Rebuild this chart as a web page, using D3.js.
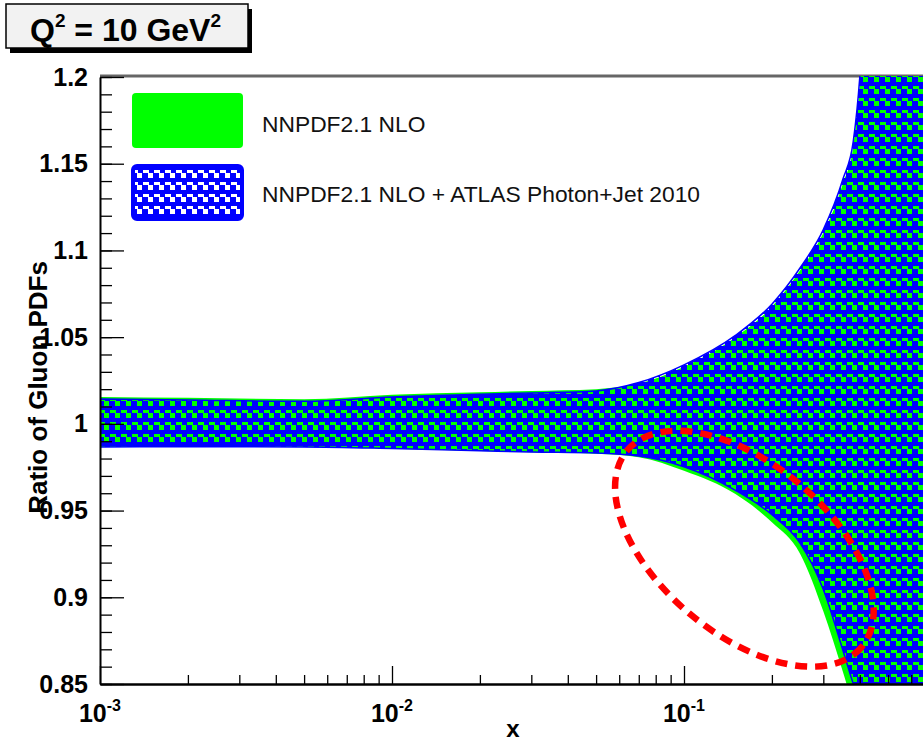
<!DOCTYPE html>
<html>
<head>
<meta charset="utf-8">
<script src="https://cdn.jsdelivr.net/npm/d3@7"></script>
<style>
body { margin: 0; background: #fff; }
svg { display: block; }
text { font-family: "Liberation Sans", Arial, Helvetica, sans-serif; }
</style>
</head>
<body>
<div id="chart"></div>
<script>
// x grid (momentum fraction) shared by both bands
var xs = [0.001, 0.002, 0.005, 0.01, 0.02, 0.03, 0.05, 0.07, 0.1, 0.15, 0.2, 0.25, 0.3, 0.35, 0.38, 0.4, 0.42, 0.45, 0.5, 0.6, 0.7];

// NNPDF2.1 NLO (green, solid)
var nloUp = [1.0155, 1.0150, 1.0142, 1.0168, 1.0182, 1.0190, 1.0200, 1.0232, 1.0330, 1.0500, 1.0675, 1.0885, 1.1100, 1.1385, 1.1600, 1.1950, 1.2500, 1.3500, 1.4500, 1.6300, 1.8000];
var nloLo = [0.9867, 0.9868, 0.9866, 0.9856, 0.9843, 0.9836, 0.9828, 0.9808, 0.9730, 0.9595, 0.9432, 0.9250, 0.8920, 0.8570, 0.8370, 0.8240, 0.8110, 0.7920, 0.7620, 0.7050, 0.6550];

// NNPDF2.1 NLO + ATLAS Photon+Jet 2010 (blue, hatched)
var atlasUp = [1.0144, 1.0138, 1.0130, 1.0155, 1.0170, 1.0178, 1.0190, 1.0238, 1.0340, 1.0510, 1.0690, 1.0900, 1.1120, 1.1410, 1.1630, 1.2000, 1.2600, 1.3600, 1.4600, 1.6500, 1.8200];
var atlasLo = [0.9867, 0.9868, 0.9867, 0.9858, 0.9845, 0.9838, 0.9832, 0.9815, 0.9753, 0.9617, 0.9476, 0.9311, 0.9045, 0.8695, 0.8500, 0.8390, 0.8270, 0.8100, 0.7820, 0.7280, 0.6780];

// axis ticks
var xMajor = [0.001, 0.01, 0.1];
var xExp = ["-3", "-2", "-1"];
var yMajor = [0.85, 0.9, 0.95, 1, 1.05, 1.1, 1.15, 1.2];
var yLabels = ["0.85", "0.9", "0.95", "1", "1.05", "1.1", "1.15", "1.2"];

var legendLabels = ["NNPDF2.1 NLO", "NNPDF2.1 NLO + ATLAS Photon+Jet 2010"];

// red annotation ellipse (centre in data units)
var markX = 0.161, markY = 0.928;

var W = 923, H = 743;
var L = 100, T = 77, B = 684, R = 976;

var svg = d3.select("#chart").append("svg")
    .attr("width", W)
    .attr("height", H);

var x = d3.scaleLog().domain([1e-3, 1]).range([L, R]);
var y = d3.scaleLinear().domain([0.85, 1.2]).range([B, T]);

var defs = svg.append("defs");
defs.append("clipPath").attr("id", "plotclip")
    .append("rect").attr("x", L).attr("y", T - 1).attr("width", R - L).attr("height", B - T + 1);

// blue hatch with transparent holes (green shows through underneath)
var pat = defs.append("pattern")
    .attr("id", "hatch")
    .attr("patternUnits", "userSpaceOnUse")
    .attr("width", 11)
    .attr("height", 12);
pat.append("path")
    .attr("fill", "#0000ff")
    .attr("fill-rule", "evenodd")
    .attr("d", "M0,0H11V12H0Z M0,2h6v3h-6z M5,5h5v5h-5z");

// top frame line
svg.append("line")
    .attr("x1", L).attr("x2", W)
    .attr("y1", T - 1).attr("y2", T - 1)
    .attr("stroke", "#666").attr("stroke-width", 3);

var plot = svg.append("g").attr("clip-path", "url(#plotclip)");

var nlo = xs.map(function (d, i) { return {x: d, lo: nloLo[i], hi: nloUp[i]}; });
var atlas = xs.map(function (d, i) { return {x: d, lo: atlasLo[i], hi: atlasUp[i]}; });

var area = d3.area()
    .x(function (d) { return x(d.x); })
    .y0(function (d) { return y(d.lo); })
    .y1(function (d) { return y(d.hi); })
    .curve(d3.curveMonotoneX);

plot.append("path")
    .datum(nlo)
    .attr("d", area)
    .attr("fill", "#00ff00");

plot.append("path")
    .datum(atlas)
    .attr("d", area)
    .attr("fill", "url(#hatch)")
    .attr("stroke", "#0000ff")
    .attr("stroke-width", 1.5);

// axes
var yMinor = d3.range(85, 121).map(function (d) { return d / 100; });
var xMinor = [];
[0.001, 0.01, 0.1].forEach(function (dec) {
    for (var k = 2; k <= 9; k++) xMinor.push(k * dec);
});

svg.append("g")
    .attr("transform", "translate(" + L + ",0)")
    .call(d3.axisLeft(y).tickValues(yMinor).tickSize(-12).tickFormat(""))
    .call(function (g) { g.select(".domain").remove(); })
    .selectAll("line").attr("stroke", "#000").attr("stroke-width", 1.3);

var yAx = svg.append("g")
    .attr("transform", "translate(" + L + ",0)")
    .call(d3.axisLeft(y).tickValues(yMajor).tickSizeInner(-24).tickSizeOuter(0).tickPadding(12)
        .tickFormat(function (d, i) { return yLabels[i]; }));
yAx.select(".domain").attr("stroke", "#000").attr("stroke-width", 2);
yAx.selectAll("line").attr("stroke-width", 1.3);
yAx.selectAll("text")
    .attr("font-size", 25)
    .attr("font-weight", "bold")
    .attr("font-family", "Liberation Sans, Arial, sans-serif");

svg.append("g")
    .attr("transform", "translate(0," + B + ")")
    .call(d3.axisBottom(x).tickValues(xMinor).tickSize(-9).tickFormat(""))
    .call(function (g) { g.select(".domain").remove(); })
    .selectAll("line").attr("stroke", "#000").attr("stroke-width", 1.3);

var xAx = svg.append("g")
    .attr("transform", "translate(0," + B + ")")
    .call(d3.axisBottom(x).tickValues(xMajor).tickSizeInner(-18).tickSizeOuter(0).tickFormat(""));
xAx.select(".domain").attr("stroke", "#000").attr("stroke-width", 2.5);
xAx.selectAll("line").attr("stroke-width", 1.3);

var xl = svg.append("g").selectAll("text")
    .data(xMajor)
    .enter().append("text")
    .attr("x", function (d) { return x(d); })
    .attr("y", B + 38)
    .attr("text-anchor", "middle")
    .attr("font-size", 25)
    .attr("font-weight", "bold");
xl.append("tspan").text("10");
xl.append("tspan")
    .attr("dy", -11)
    .attr("font-size", 16)
    .text(function (d, i) { return xExp[i]; });

// axis titles
svg.append("text")
    .attr("x", (L + W + 3) / 2)
    .attr("y", H - 6)
    .attr("text-anchor", "middle")
    .attr("font-size", 24)
    .attr("font-weight", "bold")
    .text("x");

svg.append("text")
    .attr("transform", "translate(47," + y(1.021) + ") rotate(-90)")
    .attr("text-anchor", "middle")
    .attr("font-size", 26)
    .attr("font-weight", "bold")
    .text("Ratio of Gluon PDFs");

// legend
var leg = svg.append("g");
leg.append("rect")
    .attr("x", 132).attr("y", 93).attr("width", 111).attr("height", 55)
    .attr("rx", 4)
    .attr("fill", "#00ff00");
leg.append("rect")
    .attr("x", 133).attr("y", 166).attr("width", 109).attr("height", 53)
    .attr("rx", 4)
    .attr("fill", "#fff");
leg.append("rect")
    .attr("x", 133).attr("y", 166).attr("width", 109).attr("height", 53)
    .attr("rx", 4)
    .attr("fill", "url(#hatch)")
    .attr("stroke", "#0000ff")
    .attr("stroke-width", 4);
leg.selectAll("text.leg")
    .data(legendLabels)
    .enter().append("text")
    .attr("class", "leg")
    .attr("x", 262)
    .attr("y", function (d, i) { return 132 + i * 70; })
    .attr("font-size", 22.8)
    .attr("fill", "#111")
    .text(function (d) { return d; });

// title box
svg.append("rect")
    .attr("x", 10).attr("y", 9).attr("width", 242).attr("height", 44)
    .attr("fill", "#000");
svg.append("rect")
    .attr("x", 6).attr("y", 4).attr("width", 242).attr("height", 44)
    .attr("fill", "#f2f2f2")
    .attr("stroke", "#000").attr("stroke-width", 1.5);
var ttl = svg.append("text")
    .attr("x", 30).attr("y", 41)
    .attr("font-size", 32)
    .attr("font-weight", "bold");
ttl.append("tspan").text("Q");
ttl.append("tspan").attr("dy", -14).attr("font-size", 19).text("2");
ttl.append("tspan").attr("dy", 14).text(" = 10 GeV");
ttl.append("tspan").attr("dy", -14).attr("font-size", 19).text("2");

// red dashed annotation
svg.append("ellipse")
    .attr("cx", x(markX))
    .attr("cy", y(markY))
    .attr("rx", 153)
    .attr("ry", 85)
    .attr("transform", "rotate(40," + x(markX) + "," + y(markY) + ")")
    .attr("fill", "none")
    .attr("stroke", "#ff0000")
    .attr("stroke-width", 6.5)
    .attr("stroke-dasharray", "12 8");
</script>
</body>
</html>
